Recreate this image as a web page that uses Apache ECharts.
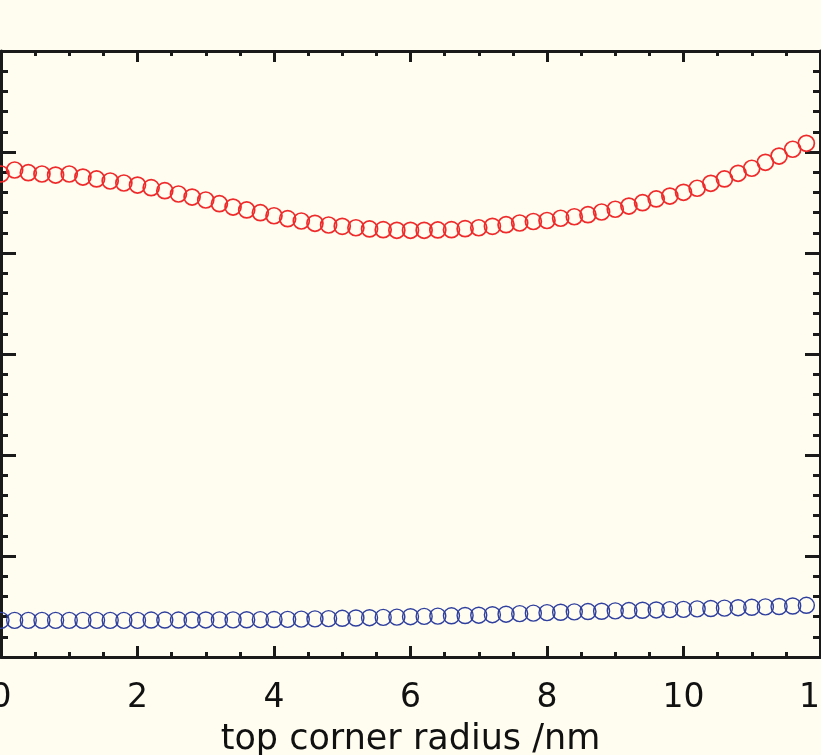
<!DOCTYPE html>
<html>
<head>
<meta charset="utf-8">
<script src="https://cdn.jsdelivr.net/npm/echarts@6/dist/echarts.min.js"></script>
<style>html,body{margin:0;padding:0;background:#fffdf0;}#c{width:821px;height:755px;}</style>
</head>
<body>
<div id="c"></div>
<script>
// x positions: 0 .. 11.8 step 0.2 (listed explicitly)
const radius = [0,0.2,0.4,0.6,0.8,1,1.2,1.4,1.6,1.8,2,2.2,2.4,2.6,2.8,3,3.2,3.4,3.6,3.8,4,4.2,4.4,4.6,4.8,5,5.2,5.4,5.6,5.8,6,6.2,6.4,6.6,6.8,7,7.2,7.4,7.6,7.8,8,8.2,8.4,8.6,8.8,9,9.2,9.4,9.6,9.8,10,10.2,10.4,10.6,10.8,11,11.2,11.4,11.6,11.8];
const redValues = [4.782,4.822,4.795,4.782,4.772,4.782,4.752,4.733,4.713,4.693,4.673,4.647,4.617,4.584,4.554,4.525,4.488,4.455,4.426,4.399,4.369,4.340,4.317,4.294,4.277,4.264,4.250,4.238,4.231,4.225,4.225,4.225,4.228,4.231,4.241,4.250,4.264,4.280,4.297,4.312,4.322,4.344,4.359,4.379,4.406,4.433,4.465,4.498,4.535,4.564,4.601,4.641,4.690,4.733,4.789,4.839,4.898,4.960,5.027,5.086];
const blueValues = [0.363,0.363,0.363,0.363,0.363,0.363,0.363,0.363,0.363,0.363,0.363,0.366,0.366,0.366,0.367,0.367,0.368,0.368,0.369,0.370,0.371,0.373,0.375,0.377,0.380,0.383,0.386,0.389,0.392,0.395,0.399,0.402,0.405,0.408,0.411,0.414,0.419,0.424,0.429,0.434,0.439,0.443,0.447,0.450,0.453,0.457,0.460,0.463,0.466,0.469,0.472,0.476,0.480,0.484,0.488,0.492,0.496,0.500,0.505,0.512];
const xTickLabels = ['0','2','4','6','8','10','12'];
const xTitle = 'top corner radius /nm';

const chart = echarts.init(document.getElementById('c'), null, {renderer: 'canvas'});
const axisColor = '#1a1a1a';
const FONT = 'DejaVu Sans';
const baseX = {
  type: 'value', min: 0, max: 12, interval: 2,
  axisLine: {show: true, onZero: false, lineStyle: {color: axisColor, width: 3}},
  axisTick: {show: true, inside: true, length: 11, lineStyle: {color: axisColor, width: 3}},
  minorTick: {show: true, splitNumber: 4, length: 5, lineStyle: {color: axisColor, width: 3}},
  splitLine: {show: false}, minorSplitLine: {show: false}
};
const baseY = {
  type: 'value', min: 0, max: 6, interval: 1,
  axisLine: {show: true, onZero: false, lineStyle: {color: axisColor, width: 3}},
  axisTick: {show: true, inside: true, length: 15, lineStyle: {color: axisColor, width: 3}},
  minorTick: {show: true, splitNumber: 5, length: 7, lineStyle: {color: axisColor, width: 3}},
  splitLine: {show: false}, minorSplitLine: {show: false},
  axisLabel: {show: false}
};
const toData = (vals) => vals.map((v, i) => [radius[i], v]);
chart.setOption({
  backgroundColor: '#fffdf0',
  animation: false,
  grid: {left: 1, right: 1, top: 51, bottom: 98, containLabel: false, outerBoundsMode: 'none'},
  xAxis: [
    Object.assign({}, baseX, {
      position: 'bottom',
      name: xTitle, nameLocation: 'middle', nameGap: 65,
      nameTextStyle: {fontFamily: FONT, fontSize: 35, color: '#111'},
      axisLabel: {show: true, margin: 25, fontFamily: FONT, fontSize: 33, color: '#111',
        formatter: (v) => xTickLabels[Math.round(v / 2)] }
    }),
    Object.assign({}, baseX, {position: 'top', axisLabel: {show: false}})
  ],
  yAxis: [
    Object.assign({}, baseY, {position: 'left'}),
    Object.assign({}, baseY, {position: 'right'})
  ],
  series: [
    {type: 'scatter', data: toData(redValues), symbol: 'circle', symbolSize: 16,
      itemStyle: {color: 'rgba(0,0,0,0)', borderColor: '#ee2a2a', borderWidth: 1.7, opacity: 1}},
    {type: 'scatter', data: toData(blueValues), symbol: 'circle', symbolSize: 16,
      itemStyle: {color: 'rgba(0,0,0,0)', borderColor: '#2f3f9e', borderWidth: 1.4, opacity: 1}}
  ]
});
</script>
</body>
</html>
